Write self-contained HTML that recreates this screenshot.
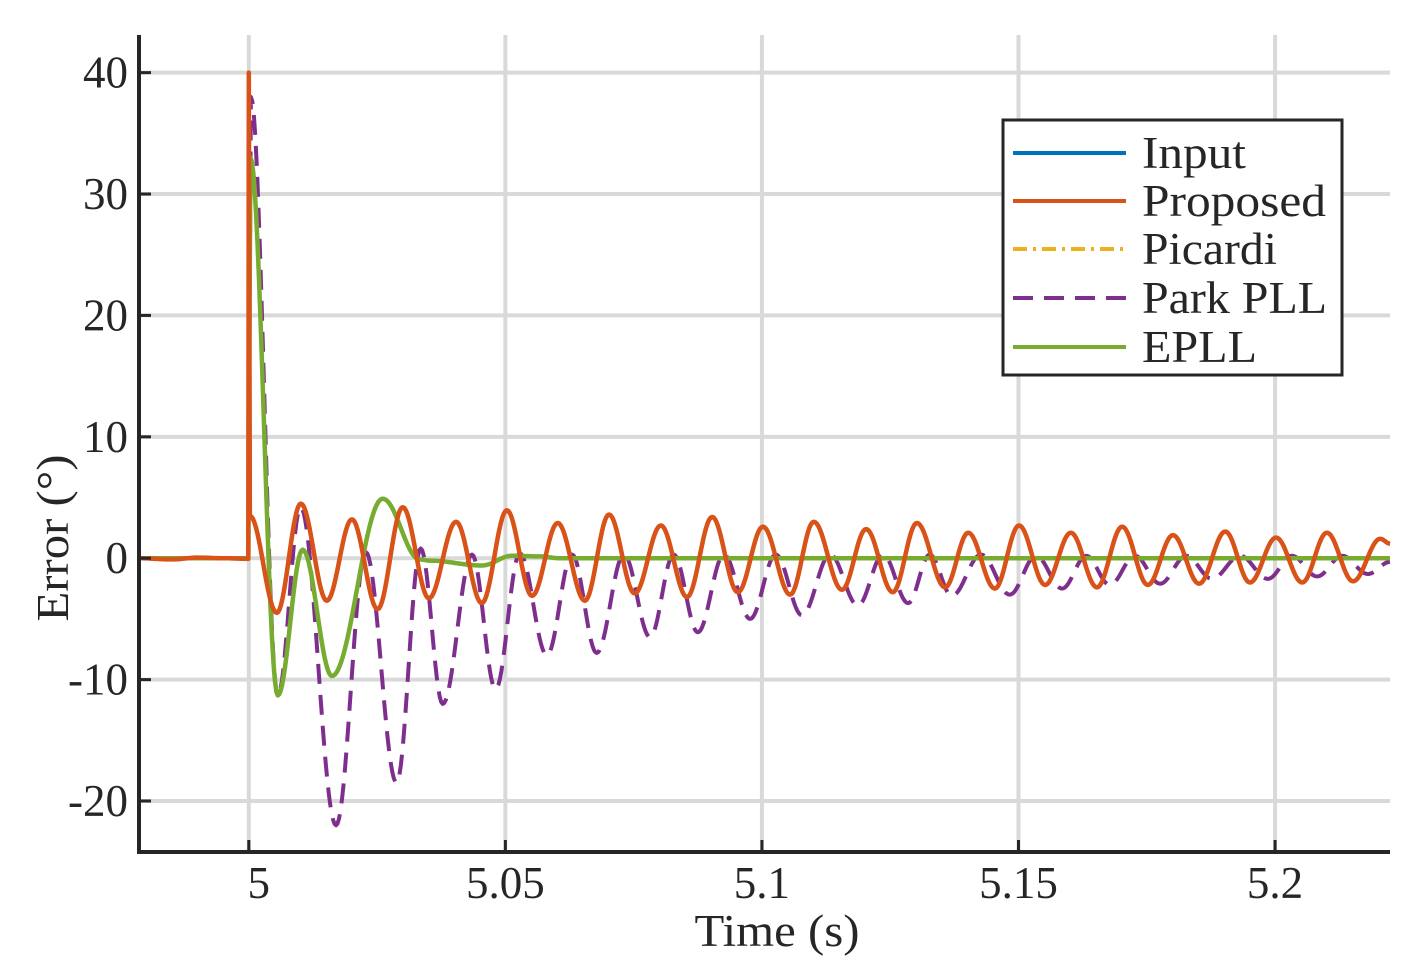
<!DOCTYPE html>
<html><head><meta charset="utf-8"><style>
html,body{margin:0;padding:0;background:#fff;}
svg{display:block;font-family:"Liberation Serif","Times New Roman",serif;}
</style></head><body>
<svg id="chart" width="1419" height="978" viewBox="0 0 1419 978">
<g id="grid"></g>
<g id="plot"></g>
<g id="axes"></g>
<text x="777" y="946" font-size="45" text-anchor="middle" textLength="165" lengthAdjust="spacingAndGlyphs" fill="#262626">Time (s)</text>
<text transform="translate(68,538) rotate(-90)" font-size="45" text-anchor="middle" textLength="167" lengthAdjust="spacingAndGlyphs" fill="#262626">Error (°)</text>
<g id="legend"></g>
</svg>
<script>
const xTicks=[5,5.05,5.1,5.15,5.2];
const xTickLabels=["5","5.05","5.1","5.15","5.2"];
const yTicks=[-20,-10,0,10,20,30,40];
const yTickLabels=["-20","-10","0","10","20","30","40"];
const seriesNames=["Input","Proposed","Picardi","Park PLL","EPLL"];
const proposedT=[4.9786,4.985,4.99,4.995,4.9999,5.0,5.0002,5.00546,5.01014,5.0152,5.0201,5.0251,5.0300,5.0351,5.0404,5.0454,5.0503,5.0552,5.0602,5.0655,5.0702,5.0752,5.0803,5.0854,5.0903,5.0953,5.1002,5.1055,5.1101,5.1156,5.1203,5.1255,5.1302,5.1357,5.1402,5.1454,5.1501,5.1552,5.1602,5.1653,5.1702,5.1752,5.1801,5.1852,5.1903,5.1951,5.2002,5.2053,5.2101,5.2152,5.2205,5.2224];
const proposedV=[0,-0.1,0.05,0,-0.05,40,3.5,-4.5,4.5,-3.5,3.2,-4.2,4.2,-3.3,3.0,-3.7,3.95,-3.1,2.9,-3.5,3.6,-2.9,2.7,-3.2,3.4,-2.8,2.6,-3.0,3.0,-2.6,2.4,-2.8,2.9,-2.4,2.1,-2.5,2.7,-2.2,2.1,-2.4,2.6,-2.2,1.9,-2.1,2.2,-2.0,1.7,-2.0,2.1,-1.9,1.6,1.2];
const parkT=[4.9786,4.9999,5.0004,5.00565,5.0101,5.0170,5.0228,5.0288,5.0335,5.0378,5.0435,5.0481,5.0528,5.0581,5.0630,5.0678,5.0731,5.0782,5.0828,5.0875,5.0926,5.0977,5.1027,5.1078,5.1133,5.1187,5.1236,5.1285,5.1327,5.1370,5.1427,5.1483,5.1534,5.1585,5.1632,5.1678,5.1727,5.1776,5.1827,5.1877,5.1932,5.1986,5.2033,5.2082,5.2131,5.2181,5.2224];
const parkV=[0,0,38,-11.3,4.2,-22,0.5,-18.5,0.8,-12,0.3,-10.8,0.4,-8.0,0.3,-7.8,0.3,-6.5,0.3,-6.1,0.3,-5.0,0.3,-4.7,0.3,-3.9,0.3,-3.7,0.3,-3.1,0.3,-3.0,0.2,-2.5,0.2,-2.2,0.2,-2.1,0.2,-1.7,0.2,-1.7,0.2,-1.5,0.2,-1.3,-0.3];
const epllT=[4.9786,4.9999,5.0003,5.00565,5.0105,5.0162,5.0261,5.0333,5.0353,5.0454,5.0513,5.0567,5.0606,5.2224];
const epllV=[0,0,33,-11.3,0.7,-9.7,4.9,-0.1,-0.2,-0.6,0.2,0.15,0,0];

const X0=4.9786,X1=5.2224,PX0=139,PX1=1390;
const Y0=-24.2,Y1=43.1,PY0=852,PY1=35;
const sx=t=>PX0+(t-X0)/(X1-X0)*(PX1-PX0);
const sy=v=>PY0+(v-Y0)/(Y1-Y0)*(PY1-PY0);
const NS="http://www.w3.org/2000/svg";
function mk(tag,attrs,parent){const e=document.createElementNS(NS,tag);for(const k in attrs)e.setAttribute(k,attrs[k]);parent.appendChild(e);return e;}
function pathFrom(T,V){
  let d="M"+sx(T[0]).toFixed(2)+","+sy(V[0]).toFixed(2);
  for(let i=1;i<T.length;i++){
    const dt=T[i]-T[i-1];
    if(dt<0.0006){d+="L"+sx(T[i]).toFixed(2)+","+sy(V[i]).toFixed(2);continue;}
    const n=Math.max(4,Math.ceil((sx(T[i])-sx(T[i-1]))/1.5));
    for(let k=1;k<=n;k++){const f=k/n;const w=(1-Math.cos(Math.PI*f))/2;
      d+="L"+sx(T[i-1]+dt*f).toFixed(2)+","+sy(V[i-1]+(V[i]-V[i-1])*w).toFixed(2);}
  }
  return d;
}
const grid=document.getElementById('grid'),plot=document.getElementById('plot'),axes=document.getElementById('axes'),legend=document.getElementById('legend');
xTicks.forEach((t,i)=>{
  const l=mk('line',{x1:sx(t),x2:sx(t),y1:PY1,y2:PY0,stroke:'#d9d9d9','stroke-width':4},grid);
  
  
  const tk=mk('line',{x1:sx(t),x2:sx(t),y1:PY0,y2:PY0-12,stroke:'#262626','stroke-width':3},axes);
  
  
  const tx=mk('text',{x:sx(t)+(i==0?10:0),y:898,'font-size':45,'text-anchor':'middle',fill:'#262626'},axes);
  tx.textContent=xTickLabels[i];
  
  
});
yTicks.forEach((v,i)=>{
  const l=mk('line',{x1:PX0,x2:PX1,y1:sy(v),y2:sy(v),stroke:'#d9d9d9','stroke-width':4},grid);
  
  
  const tk=mk('line',{x1:PX0,x2:PX0+12,y1:sy(v),y2:sy(v),stroke:'#262626','stroke-width':3},axes);
  
  
  const tx=mk('text',{x:128,y:sy(v)+15,'font-size':45,'text-anchor':'end',fill:'#262626'},axes);
  tx.textContent=yTickLabels[i];
  
  
});
const ax=mk('path',{d:`M${PX0},${PY1}V${PY0}H${PX1}`,fill:'none',stroke:'#262626','stroke-width':4},axes);



const styles=[
 {T:proposedT,V:proposedV,c:'#0072bd',w:4,da:''},
 {T:proposedT,V:proposedV,c:'#d95319',w:4.5,da:''},
 {T:proposedT,V:proposedV,c:'#edb120',w:4,da:'14 6 3 6'},
 {T:parkT,V:parkV,c:'#7e2f8e',w:4,da:'20 11'},
 {T:epllT,V:epllV,c:'#77ac30',w:4.5,da:''}
];
const order=[0,2,3,4,1];
order.forEach(i=>{
  const s=styles[i];
  const p=mk('path',{d:pathFrom(s.T,s.V),fill:'none',stroke:s.c,'stroke-width':s.w,'stroke-linejoin':'round'},plot);
  if(s.da)p.setAttribute('stroke-dasharray',s.da);
  
  
});
const box=mk('rect',{x:1003,y:120,width:339,height:255,fill:'#fff',stroke:'#262626','stroke-width':3},legend);


const ly=[153,201,249,298,347];
const lw=[104,184,135,185,115];
seriesNames.forEach((n,i)=>{
  const s=styles[i];
  const l=mk('line',{x1:1013,x2:1126,y1:ly[i],y2:ly[i],stroke:s.c,'stroke-width':4},legend);
  if(s.da)l.setAttribute('stroke-dasharray',s.da);
  
  
  const t=mk('text',{x:1142,y:ly[i]+15,'font-size':45,fill:'#262626',textLength:lw[i],lengthAdjust:'spacingAndGlyphs'},legend);
  t.textContent=n;
  
  
});
</script>
</body></html>
